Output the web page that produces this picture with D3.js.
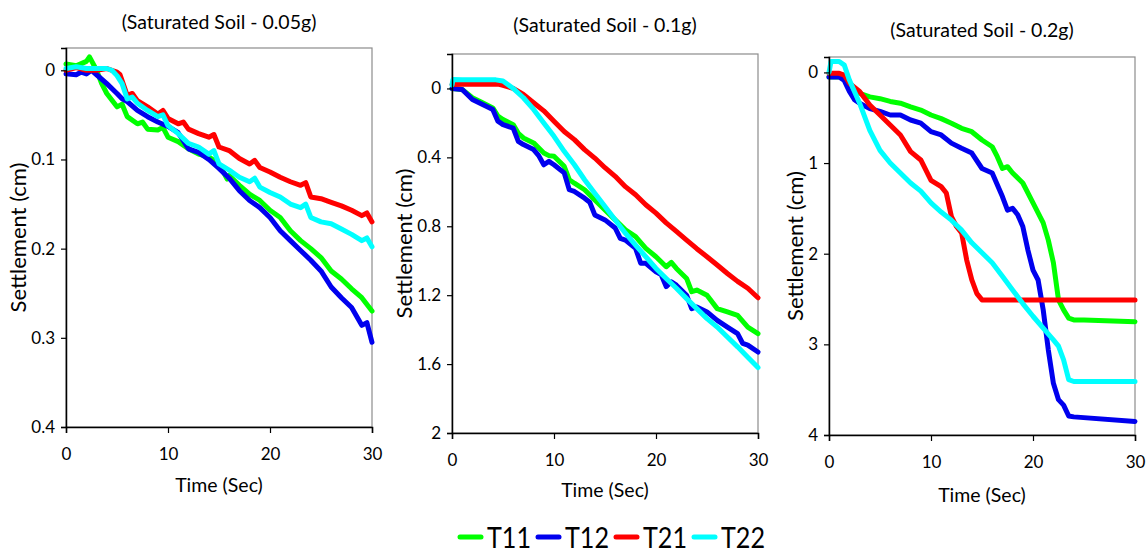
<!DOCTYPE html>
<html>
<head>
  <title>Settlement vs Time</title>
  <script src="https://d3js.org/d3.v7.min.js"></script>
  <style>
    body { margin: 0; background: #fff; font-family: Lato, "Open Sans", sans-serif; }
    .tick text { font-family: Lato, sans-serif; }
  </style>
</head>
<body>
  <div id="chart"></div>
  <script>
const width = 1148;
const height = 554;

// series names / colours
const seriesNames = ["T11", "T12", "T21", "T22"];
const seriesColors = ["#00ff00", "#0000ee", "#ff0000", "#00ffff"];

// panel titles and ticks
const titles = ["(Saturated Soil - 0.05g)", "(Saturated Soil - 0.1g)", "(Saturated Soil - 0.2g)"];
const xTicks = [0, 10, 20, 30];
const yTicks1 = [0, 0.1, 0.2, 0.3, 0.4];
const yTicks2 = [0, 0.4, 0.8, 1.2, 1.6, 2];
const yTicks3 = [0, 1, 2, 3, 4];

// panel 1 (0.05g) : [time, settlement]
const p1_T11 = [[0,-0.007],[1,-0.005],[2,-0.01],[2.3,-0.015],[3,0],[3.5,0.015],[4,0.026],[5,0.041],[5.5,0.038],[6,0.052],[7,0.06],[7.5,0.058],[8,0.066],[9,0.067],[9.5,0.064],[10,0.075],[11,0.08],[12,0.088],[13,0.094],[14,0.097],[15,0.105],[15.8,0.122],[16,0.118],[17,0.129],[18,0.139],[19,0.146],[20,0.157],[21,0.165],[22,0.18],[23,0.191],[24,0.2],[25,0.21],[26,0.225],[27,0.234],[28,0.245],[29,0.255],[30,0.27]];
const p1_T12 = [[0,0.004],[1,0.005],[1.5,0.002],[2,0.004],[2.5,0],[3,0.005],[4,0.015],[5,0.026],[5.5,0.032],[6,0.035],[7,0.045],[8,0.052],[9,0.058],[10,0.063],[11,0.07],[12,0.088],[13,0.092],[14,0.1],[15,0.11],[16,0.121],[17,0.135],[18,0.146],[19,0.154],[20,0.165],[21,0.18],[22,0.191],[23,0.202],[24,0.213],[25,0.225],[26,0.243],[27,0.255],[28,0.266],[29,0.286],[29.5,0.283],[30,0.305]];
const p1_T21 = [[0,0],[1,-0.003],[2,0],[3,0],[4,-0.002],[5,0.002],[5.3,0.005],[6,0.028],[6.5,0.026],[7,0.034],[8,0.041],[9,0.049],[9.5,0.045],[10,0.054],[11,0.06],[11.5,0.058],[12,0.066],[13,0.071],[14,0.075],[14.5,0.072],[15,0.086],[16,0.09],[17,0.099],[18,0.105],[18.5,0.101],[19,0.109],[20,0.114],[21,0.12],[22,0.125],[23,0.129],[23.5,0.126],[24,0.142],[25,0.144],[26,0.148],[27,0.152],[28,0.157],[29,0.163],[29.5,0.16],[30,0.17]];
const p1_T22 = [[0,-0.002],[1,-0.004],[2,-0.002],[3,-0.002],[4,-0.002],[4.5,0],[5,0.006],[5.5,0.015],[6,0.032],[6.5,0.03],[7,0.037],[8,0.045],[9,0.052],[9.5,0.05],[10,0.062],[11,0.071],[12,0.082],[13,0.086],[14,0.094],[14.5,0.09],[15,0.105],[16,0.112],[17,0.12],[18,0.125],[18.5,0.121],[19,0.131],[20,0.137],[21,0.142],[22,0.15],[23,0.154],[23.5,0.15],[24,0.165],[25,0.17],[26,0.172],[27,0.178],[28,0.184],[29,0.191],[29.5,0.188],[30,0.198]];

// panel 2 (0.1g)
const p2_T11 = [[0,0],[1,0.006],[2,0.054],[3,0.083],[4,0.113],[4.5,0.16],[5,0.18],[6,0.21],[6.5,0.26],[7,0.287],[8,0.316],[9,0.375],[9.5,0.39],[10,0.394],[11,0.452],[11.5,0.53],[12,0.55],[13,0.588],[14,0.647],[15,0.705],[16,0.763],[17,0.821],[18,0.86],[19,0.928],[20,0.977],[21,1.035],[21.5,1.01],[22,1.045],[23,1.103],[23.5,1.18],[24,1.17],[25,1.2],[26,1.278],[27,1.297],[28,1.317],[29,1.385],[30,1.423]];
const p2_T12 = [[0,0],[1,0.006],[2,0.064],[3,0.093],[4,0.122],[4.5,0.19],[5,0.21],[6,0.23],[6.5,0.307],[7,0.326],[8,0.355],[8.5,0.39],[9,0.443],[9.5,0.423],[10,0.443],[11,0.49],[11.5,0.588],[12,0.598],[13,0.637],[13.5,0.66],[14,0.734],[15,0.763],[16,0.81],[16.5,0.87],[17,0.88],[18,0.928],[18.5,1.015],[19,1.015],[20,1.064],[20.5,1.08],[21,1.15],[21.5,1.122],[22,1.142],[23,1.2],[23.5,1.278],[24,1.268],[25,1.297],[26,1.346],[27,1.385],[28,1.423],[28.5,1.48],[29,1.49],[30,1.53]];
const p2_T21 = [[0,-0.023],[1,-0.025],[2,-0.025],[3,-0.025],[4.5,-0.025],[5,-0.018],[6,0],[7,0.035],[8,0.083],[9,0.13],[10,0.19],[11,0.25],[12,0.297],[13,0.355],[14,0.404],[15,0.46],[16,0.51],[17,0.57],[18,0.617],[19,0.675],[20,0.724],[21,0.78],[22,0.83],[23,0.88],[24,0.93],[25,0.977],[26,1.025],[27,1.074],[28,1.12],[29,1.16],[30,1.215]];
const p2_T22 = [[0,-0.02],[0.1,-0.052],[1,-0.05],[2,-0.05],[3,-0.05],[4.3,-0.05],[5,-0.043],[6,0],[7,0.054],[8,0.122],[9,0.2],[10,0.278],[11,0.365],[12,0.443],[13,0.53],[14,0.608],[15,0.685],[16,0.763],[17,0.84],[18,0.91],[19,0.977],[20,1.045],[21,1.103],[22,1.16],[23,1.22],[24,1.278],[25,1.336],[26,1.385],[27,1.443],[28,1.5],[29,1.56],[30,1.62]];

// panel 3 (0.2g)
const p3_T11 = [[0,0.05],[1,0.05],[1.5,0.07],[2,0.14],[3,0.23],[4,0.27],[5,0.29],[6,0.32],[7,0.34],[8,0.38],[9,0.415],[10,0.47],[11,0.51],[12,0.56],[13,0.617],[14,0.654],[15,0.746],[16,0.82],[16.5,0.93],[17,1.06],[17.5,1.04],[18,1.11],[19,1.22],[20,1.44],[21,1.66],[21.5,1.85],[22,2.1],[22.5,2.51],[23,2.62],[23.5,2.71],[24,2.73],[25,2.73],[30,2.75]];
const p3_T12 = [[0,0.05],[1,0.05],[1.5,0.09],[2,0.21],[2.5,0.3],[3,0.34],[4,0.4],[5,0.43],[6,0.47],[7,0.47],[8,0.525],[9,0.56],[10,0.654],[11,0.69],[12,0.78],[13,0.837],[14,0.89],[15,1.06],[16,1.11],[17,1.37],[17.5,1.52],[18,1.5],[18.5,1.57],[19,1.7],[19.5,1.96],[20,2.18],[20.5,2.29],[21,2.62],[21.5,3.06],[22,3.43],[22.5,3.61],[23,3.67],[23.5,3.79],[24,3.8],[30,3.85]];
const p3_T21 = [[0,0.01],[1,0.01],[1.5,0.03],[2,0.12],[3,0.21],[4,0.36],[5,0.47],[6,0.58],[7,0.69],[8,0.874],[9,0.966],[10,1.19],[11,1.26],[11.5,1.33],[12,1.59],[12.5,1.7],[13,1.77],[13.5,2.07],[14,2.29],[14.5,2.44],[15,2.51],[20,2.51],[30,2.51]];
const p3_T22 = [[0,0],[0.2,-0.12],[1,-0.12],[1.5,-0.08],[2,0.085],[3,0.34],[4,0.64],[5,0.86],[6,1.0],[7,1.11],[8,1.22],[9,1.31],[10,1.44],[11,1.54],[12,1.63],[13,1.74],[14,1.88],[15,1.99],[16,2.1],[17,2.25],[18,2.4],[19,2.55],[20,2.69],[21,2.82],[22,2.95],[22.5,3.02],[23,3.17],[23.5,3.39],[24,3.41],[30,3.41]];

const panels = [
  { title: titles[0], series: [p1_T11, p1_T12, p1_T21, p1_T22], yTicks: yTicks1, yMin: -0.025, yMax: 0.4,
    left: 66, right: 372, top: 48, bottom: 427, titleY: 29, yLabelX: 18, xLabelY: 492 },
  { title: titles[1], series: [p2_T11, p2_T12, p2_T21, p2_T22], yTicks: yTicks2, yMin: -0.2, yMax: 2,
    left: 452, right: 758, top: 54, bottom: 433, titleY: 32, yLabelX: 404, xLabelY: 497 },
  { title: titles[2], series: [p3_T11, p3_T12, p3_T21, p3_T22], yTicks: yTicks3, yMin: -0.17, yMax: 4,
    left: 829, right: 1135, top: 57, bottom: 435, titleY: 37, yLabelX: 795, xLabelY: 502 }
];

const svg = d3.select("#chart")
  .append("svg")
  .attr("width", width)
  .attr("height", height);

panels.forEach(p => {
  const x = d3.scaleLinear().domain([0, 30]).range([p.left, p.right]);
  const y = d3.scaleLinear().domain([p.yMin, p.yMax]).range([p.top, p.bottom]);
  const cx = (p.left + p.right) / 2;

  // plot frame (grey)
  svg.append("rect")
    .attr("x", p.left).attr("y", p.top)
    .attr("width", p.right - p.left).attr("height", p.bottom - p.top)
    .attr("fill", "none").attr("stroke", "#8c8c8c").attr("stroke-width", 1.2);

  const line = d3.line().x(d => x(d[0])).y(d => y(d[1]));
  p.series.forEach((s, i) => {
    svg.append("path")
      .datum(s)
      .attr("d", line)
      .attr("fill", "none")
      .attr("stroke", seriesColors[i])
      .attr("stroke-width", 5)
      .attr("stroke-linejoin", "round")
      .attr("stroke-linecap", "round");
  });

  // axes
  const fmt = d3.format("~g");
  svg.append("g")
    .attr("transform", `translate(0,${p.bottom})`)
    .call(d3.axisBottom(x).tickValues(xTicks).tickSize(6).tickPadding(15).tickFormat(fmt))
    .call(g => g.select(".domain").attr("stroke", "#000").attr("stroke-width", 1.5))
    .call(g => g.selectAll(".tick line").attr("stroke-width", 1.2))
    .call(g => g.selectAll(".tick text").attr("font-size", 17).attr("fill", "#000"));

  svg.append("g")
    .attr("transform", `translate(${p.left},0)`)
    .call(d3.axisLeft(y).tickValues(p.yTicks).tickSize(5).tickPadding(6).tickFormat(fmt))
    .call(g => g.select(".domain").attr("stroke", "#000").attr("stroke-width", 1.5))
    .call(g => g.selectAll(".tick line").attr("stroke-width", 1.2))
    .call(g => g.selectAll(".tick text").attr("font-size", 17).attr("fill", "#000"));

  // titles and axis labels
  svg.append("text")
    .attr("x", cx).attr("y", p.titleY)
    .attr("text-anchor", "middle")
    .attr("font-size", 19.5)
    .text(p.title);

  svg.append("text")
    .attr("x", cx).attr("y", p.xLabelY)
    .attr("text-anchor", "middle")
    .attr("font-size", 19.5)
    .text("Time (Sec)");

  const ly = (p.top + p.bottom) / 2;
  svg.append("text")
    .attr("transform", `translate(${p.yLabelX + 8},${ly}) rotate(-90)`)
    .attr("text-anchor", "middle")
    .attr("font-size", 22)
    .text("Settlement (cm)");
});

// legend
const legendX = [460, 538, 616, 694];
const legend = svg.append("g");
seriesNames.forEach((name, i) => {
  legend.append("line")
    .attr("x1", legendX[i]).attr("x2", legendX[i] + 21)
    .attr("y1", 537).attr("y2", 537)
    .attr("stroke", seriesColors[i])
    .attr("stroke-width", 5)
    .attr("stroke-linecap", "round");
  legend.append("text")
    .attr("x", legendX[i] + 27).attr("y", 548)
    .attr("font-size", 29)
    .attr("textLength", 44)
    .attr("lengthAdjust", "spacingAndGlyphs")
    .text(name);
});
  </script>
</body>
</html>
